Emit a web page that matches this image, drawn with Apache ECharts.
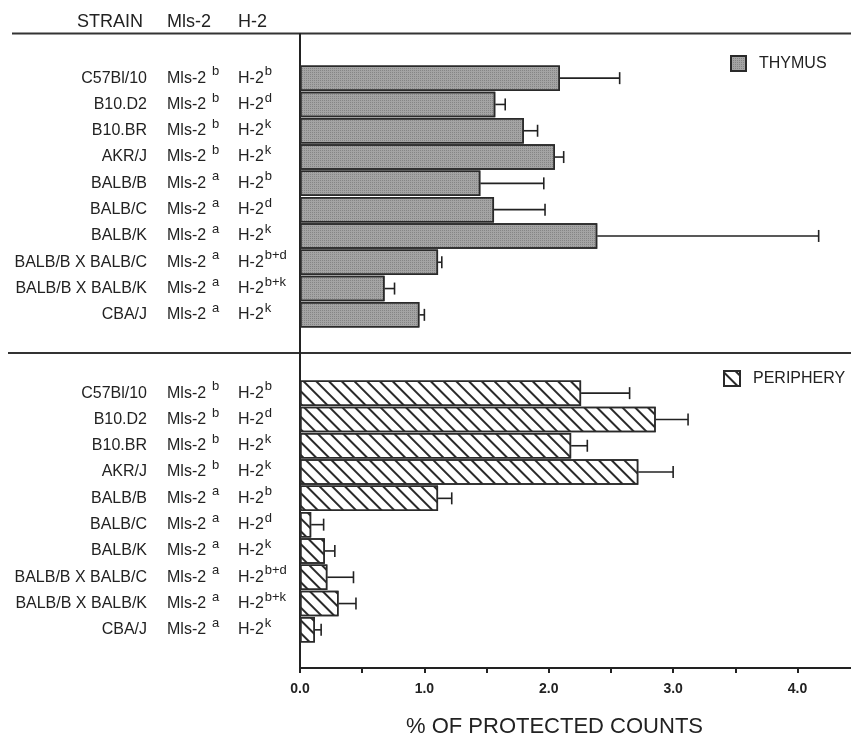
<!DOCTYPE html>
<html>
<head>
<meta charset="utf-8">
<script src="https://cdn.jsdelivr.net/npm/echarts@6/dist/echarts.min.js"></script>
<style>
html, body { margin: 0; padding: 0; background: #fff; }
#main { width: 851px; height: 744px; }
</style>
</head>
<body>
<div id="main"></div>
<script>
// data
var strains = ['C57Bl/10', 'B10.D2', 'B10.BR', 'AKR/J', 'BALB/B', 'BALB/C', 'BALB/K',
               'BALB/B X BALB/C', 'BALB/B X BALB/K', 'CBA/J'];
var mlsAllele = ['b', 'b', 'b', 'b', 'a', 'a', 'a', 'a', 'a', 'a'];
var h2Haplo = ['b', 'd', 'k', 'k', 'b', 'd', 'k', 'b+d', 'b+k', 'k'];
var thymusMean = [2.09, 1.57, 1.80, 2.05, 1.45, 1.56, 2.39, 1.11, 0.68, 0.96];
var thymusErr = [0.48, 0.08, 0.11, 0.07, 0.51, 0.41, 1.78, 0.03, 0.08, 0.04];
var peripheryMean = [2.26, 2.86, 2.18, 2.72, 1.11, 0.09, 0.20, 0.22, 0.31, 0.12];
var peripheryErr = [0.39, 0.26, 0.13, 0.28, 0.11, 0.10, 0.08, 0.21, 0.14, 0.05];
var xTickValues = [0, 0.5, 1, 1.5, 2, 2.5, 3, 3.5, 4];
var xLabelValues = [0, 1, 2, 3, 4];
var headers = ['STRAIN', 'Mls-2', 'H-2'];

var FONT = 'Liberation Sans, Arial, Helvetica, sans-serif';
var INK = '#222';

var chart = echarts.init(document.getElementById('main'), null, { renderer: 'canvas' });

function labelAxes(grid) {
    var sup = { fontSize: 13, fontFamily: FONT, color: INK };
    return [
        {
            type: 'category', gridIndex: grid, data: strains, inverse: true,
            axisLine: { show: false }, axisTick: { show: false },
            axisLabel: { interval: 0, margin: 153, fontSize: 16, fontFamily: FONT, color: INK }
        },
        {
            type: 'category', gridIndex: grid, data: strains, inverse: true, position: 'left', offset: 133,
            axisLine: { show: false }, axisTick: { show: false },
            axisLabel: {
                interval: 0, margin: 0, align: 'left',
                formatter: function (v, i) { return '{t|Mls-2}{s|' + mlsAllele[i] + '}'; },
                rich: {
                    t: { fontSize: 16, fontFamily: FONT, color: INK },
                    s: Object.assign({ padding: [0, 0, 13, 6] }, sup)
                }
            }
        },
        {
            type: 'category', gridIndex: grid, data: strains, inverse: true, position: 'left', offset: 62,
            axisLine: { show: false }, axisTick: { show: false },
            axisLabel: {
                interval: 0, margin: 0, align: 'left',
                formatter: function (v, i) { return '{t|H-2}{s|' + h2Haplo[i] + '}'; },
                rich: {
                    t: { fontSize: 16, fontFamily: FONT, color: INK },
                    s: Object.assign({ padding: [0, 0, 13, 1] }, sup)
                }
            }
        }
    ];
}

function errorSeries(name, mean, err, axis) {
    return {
        name: name + ' err',
        type: 'custom',
        xAxisIndex: axis, yAxisIndex: axis * 3,
        data: mean.map(function (v, i) { return [v, v + err[i], i]; }),
        encode: { x: [0, 1], y: 2 },
        silent: true,
        z: 3,
        renderItem: function (params, api) {
            var a = api.coord([api.value(0), api.value(2)]);
            var b = api.coord([api.value(1), api.value(2)]);
            var st = { stroke: INK, lineWidth: 1.6 };
            return {
                type: 'group',
                children: [
                    { type: 'line', shape: { x1: a[0], y1: a[1], x2: b[0], y2: b[1] }, style: st },
                    { type: 'line', shape: { x1: b[0], y1: b[1] - 6, x2: b[0], y2: b[1] + 6 }, style: st }
                ]
            };
        }
    };
}

var option = {
    animation: false,
    textStyle: { fontFamily: FONT },
    grid: [
        { left: 300, right: 0, top: 65, height: 263, outerBoundsMode: 'none' },
        { left: 300, right: 0, top: 380, height: 263, outerBoundsMode: 'none' }
    ],
    legend: [
        {
            data: ['THYMUS'], left: 730, top: 55, padding: 0, icon: 'rect', itemWidth: 15, itemHeight: 15,
            textStyle: { fontSize: 16, color: INK, padding: [0, 0, 0, 8] }
        },
        {
            data: ['PERIPHERY'], left: 723, top: 370, padding: 0, icon: 'rect', itemWidth: 16, itemHeight: 15,
            textStyle: { fontSize: 16, color: INK, padding: [0, 0, 0, 8] }
        }
    ],
    xAxis: [
        { type: 'value', gridIndex: 0, min: 0, max: 4.43, show: false },
        {
            type: 'value', gridIndex: 1, min: 0, max: 4.43, offset: 25,
            axisLine: { show: true, lineStyle: { color: INK, width: 2 } },
            axisTick: { show: true, customValues: xTickValues, length: 5, lineStyle: { color: INK, width: 2 } },
            axisLabel: {
                customValues: xLabelValues, margin: 14, fontSize: 14, fontWeight: 'bold', color: INK,
                formatter: function (v) { return v.toFixed(1); }
            },
            splitLine: { show: false },
            name: '% OF PROTECTED COUNTS', nameLocation: 'middle', nameGap: 48,
            nameTextStyle: { fontSize: 22, color: INK, padding: [0, 42, 0, 0] }
        }
    ],
    yAxis: labelAxes(0).concat(labelAxes(1)),
    series: [
        {
            name: 'THYMUS', type: 'bar', xAxisIndex: 0, yAxisIndex: 0,
            data: thymusMean, barCategoryGap: '3%',
            itemStyle: {
                color: '#a4a4a4', borderColor: '#2a2a2a', borderWidth: 1.5,
                decal: { symbol: 'rect', symbolSize: 1, dashArrayX: [1, 1], dashArrayY: [1, 1], color: 'rgba(40,40,40,0.25)' }
            }
        },
        errorSeries('THYMUS', thymusMean, thymusErr, 0),
        {
            name: 'PERIPHERY', type: 'bar', xAxisIndex: 1, yAxisIndex: 3,
            data: peripheryMean, barCategoryGap: '3%',
            itemStyle: {
                color: '#fff', borderColor: '#2a2a2a', borderWidth: 1.5,
                decal: { symbol: 'rect', symbolSize: 1, dashArrayX: [1, 0], dashArrayY: [1.4, 6.4], rotation: Math.PI / 4, color: '#2a2a2a' }
            }
        },
        errorSeries('PERIPHERY', peripheryMean, peripheryErr, 1)
    ]
};

chart.setOption(option);

// frame lines and column headers
var x0 = chart.convertToPixel({ xAxisIndex: 1 }, 0);
var headX = [77, 167, 238];
chart.setOption({
    graphic: [
        { type: 'line', shape: { x1: 12, y1: 33.5, x2: 851, y2: 33.5 }, style: { stroke: '#333', lineWidth: 2 } },
        { type: 'line', shape: { x1: 8, y1: 353, x2: 851, y2: 353 }, style: { stroke: '#333', lineWidth: 2 } },
        { type: 'line', shape: { x1: x0, y1: 33, x2: x0, y2: 669 }, style: { stroke: INK, lineWidth: 2 } }
    ].concat(headers.map(function (h, i) {
        return {
            type: 'text', x: headX[i], y: 22,
            style: { text: h, fontSize: 18, fontFamily: FONT, fill: INK, verticalAlign: 'middle' }
        };
    }))
});

window.addEventListener('resize', chart.resize);
</script>
</body>
</html>
